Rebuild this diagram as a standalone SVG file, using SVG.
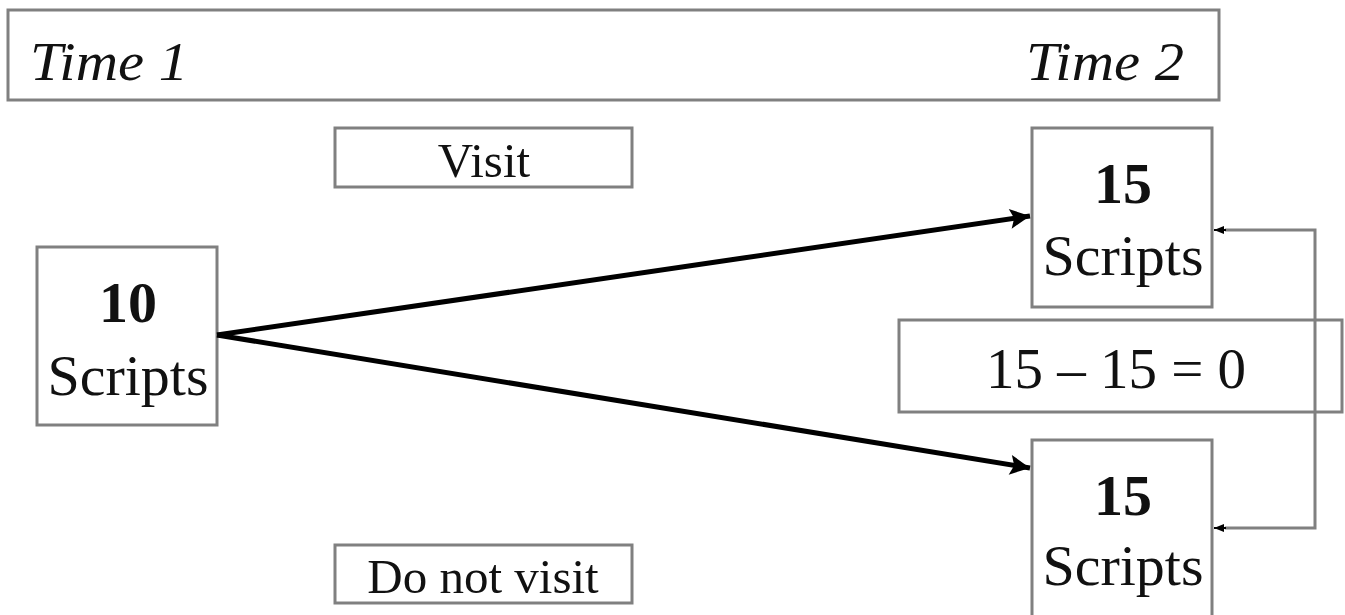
<svg xmlns="http://www.w3.org/2000/svg" width="1345" height="615" viewBox="0 0 1345 615">
<style>
.box{fill:#fff;stroke:#808080;stroke-width:3}
.t{font-family:"Liberation Serif","Times New Roman",serif;fill:#111;text-anchor:middle}
.big{font-size:58px}
.num{font-size:58px;font-weight:bold}
.lab{font-size:49px}
.it{font-size:54px;font-style:italic;text-anchor:start}
.thick{stroke:#000;stroke-width:5;fill:none}
.thin{stroke:#808080;stroke-width:3;fill:none}
</style>
<defs>
<marker id="ah" viewBox="0 0 10 10" refX="10" refY="5" markerWidth="5" markerHeight="4" orient="auto" markerUnits="strokeWidth">
<path d="M0,0 L10,5 L0,10 L2,5 z" fill="#000"/>
</marker>
<marker id="ahs" viewBox="0 0 10 10" refX="10" refY="5" markerWidth="5" markerHeight="5" orient="auto" markerUnits="strokeWidth">
<path d="M0,1 L10,5 L0,9 z" fill="#000"/>
</marker>
</defs>
<rect width="1345" height="615" fill="#fff"/>
<g id="banner">
<rect class="box" x="8" y="10" width="1211" height="90"/>
<text class="t it" x="30" y="80" textLength="158" lengthAdjust="spacingAndGlyphs">Time 1</text>
<text class="t it" x="1026" y="80" textLength="158" lengthAdjust="spacingAndGlyphs">Time 2</text>
</g>
<g id="visit">
<rect class="box" x="335" y="128" width="297" height="59"/>
<text class="t lab" x="484" y="177">Visit</text>
</g>
<g id="donotvisit">
<rect class="box" x="335" y="545" width="297" height="58"/>
<text class="t lab" x="483" y="593">Do not visit</text>
</g>
<g id="time1">
<rect class="box" x="37" y="247" width="180" height="178"/>
<text class="t num" x="128" y="322">10</text>
<text class="t big" x="128" y="395">Scripts</text>
</g>
<g id="time2top">
<rect class="box" x="1032" y="128" width="180" height="179"/>
<text class="t num" x="1123" y="203">15</text>
<text class="t big" x="1123" y="275">Scripts</text>
</g>
<g id="time2bottom">
<rect class="box" x="1032" y="440" width="180" height="190"/>
<text class="t num" x="1123" y="515">15</text>
<text class="t big" x="1123" y="585">Scripts</text>
</g>
<g id="connectors">
<line class="thick" x1="217" y1="335" x2="1030" y2="216" marker-end="url(#ah)"/>
<line class="thick" x1="217" y1="335" x2="1030" y2="468" marker-end="url(#ah)"/>
<polyline class="thin" points="1225,230 1315,230 1315,528 1225,528"/>
<line x1="1226" y1="230" x2="1214" y2="230" stroke="#000" stroke-width="2" marker-end="url(#ahs)"/>
<line x1="1226" y1="528" x2="1214" y2="528" stroke="#000" stroke-width="2" marker-end="url(#ahs)"/>
</g>
<g id="equation">
<rect x="899" y="320" width="443" height="92" fill="none" stroke="#808080" stroke-width="3"/>
<text class="t" style="font-size:57px" x="1116" y="388">15 – 15 = 0</text>
</g>
</svg>
